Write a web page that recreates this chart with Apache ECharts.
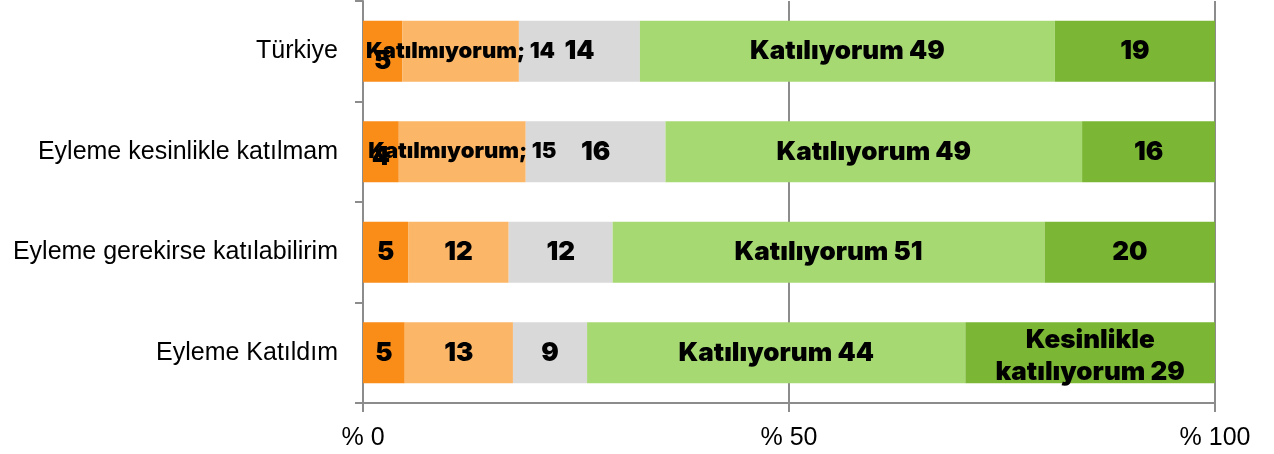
<!DOCTYPE html>
<html>
<head>
<meta charset="utf-8">
<script src="https://cdn.jsdelivr.net/npm/echarts@6/dist/echarts.min.js"></script>
<style>
  html, body { margin: 0; padding: 0; background: #fff; }
  #chart { width: 1274px; height: 454px; }
</style>
</head>
<body>
<div id="chart"></div>
<script>
// kategoriler (yukaridan asagi)
var categories = ['Türkiye', 'Eyleme kesinlikle katılmam', 'Eyleme gerekirse katılabilirim', 'Eyleme Katıldım'];
var xTicks = ['% 0', '% 50', '% 100'];

// yuzde paylar, gorselden okunmus
var kesinlikleKatilmiyorum = [4.6, 4.2, 5.3, 4.9];
var katilmiyorum = [13.7, 14.9, 11.8, 12.7];
var kararsiz = [14.2, 16.4, 12.2, 8.7];
var katiliyorum = [48.7, 48.9, 50.7, 44.4];
var kesinlikleKatiliyorum = [18.8, 15.6, 20.0, 29.3];

var names = ['Kesinlikle katılmıyorum', 'Katılmıyorum', 'Kararsızım', 'Katılıyorum', 'Kesinlikle katılıyorum'];
var colors = ['#F98D18', '#FBB668', '#D9D9D9', '#A7D973', '#7BB734'];
var values = [kesinlikleKatilmiyorum, katilmiyorum, kararsiz, katiliyorum, kesinlikleKatiliyorum];

var labelFont = 'Inter';
var axisFont = 'Liberation Sans';

function labelFor(s, i) {
    var n = Math.round(values[s][i]);
    var lab = { show: true, position: 'inside', color: '#000', fontFamily: labelFont, fontWeight: 900, fontSize: 26 };
    if (s === 0) {
        lab.formatter = String(n);
        if (i === 0) lab.offset = [0, 10];
        if (i === 1) lab.offset = [0, 5];
    } else if (s === 1) {
        if (i < 2) {
            lab.formatter = 'Katılmıyorum; ' + n;
            lab.fontSize = 22;
        } else {
            lab.formatter = String(n);
        }
    } else if (s === 3) {
        lab.formatter = 'Katılıyorum ' + n;
    } else if (s === 4 && i === 3) {
        lab.formatter = 'Kesinlikle\nkatılıyorum ' + n;
        lab.lineHeight = 32;
        lab.offset = [0, 3];
    } else {
        lab.formatter = String(n);
    }
    return lab;
}

var series = values.map(function (arr, s) {
    return {
        name: names[s],
        type: 'bar',
        stack: 'toplam',
        barWidth: 61,
        itemStyle: { color: colors[s] },
        data: arr.map(function (v, i) {
            return { value: v, label: labelFor(s, i) };
        })
    };
});

var option = {
    animation: false,
    grid: { left: 363, right: 59, top: 1, bottom: 51 },
    xAxis: {
        type: 'value',
        min: 0,
        max: 100,
        interval: 50,
        axisLine: { show: true, lineStyle: { color: '#8c8c8c', width: 2 } },
        axisTick: { show: true, length: 9, lineStyle: { color: '#8c8c8c', width: 2 } },
        splitLine: { show: true, lineStyle: { color: '#8c8c8c', width: 2 } },
        axisLabel: {
            margin: 23,
            color: '#000',
            fontFamily: axisFont,
            fontSize: 25,
            formatter: function (v) { return xTicks[v / 50]; }
        }
    },
    yAxis: {
        type: 'category',
        inverse: true,
        data: categories,
        axisLine: { show: true, lineStyle: { color: '#8c8c8c', width: 2 } },
        axisTick: { show: true, length: 8, lineStyle: { color: '#8c8c8c', width: 2 } },
        axisLabel: { margin: 25, color: '#000', fontFamily: axisFont, fontSize: 25 }
    },
    series: series
};

var mychart = echarts.init(document.getElementById('chart'));
mychart.setOption(option);
</script>
</body>
</html>
